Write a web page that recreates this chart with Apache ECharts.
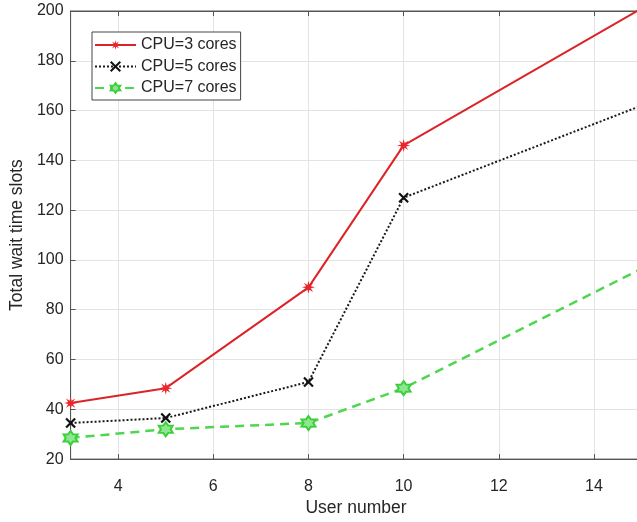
<!DOCTYPE html>
<html>
<head>
<meta charset="utf-8">
<script src="https://cdn.jsdelivr.net/npm/echarts@6/dist/echarts.min.js"></script>
<style>
html,body{margin:0;padding:0;width:637px;height:522px;overflow:hidden;background:#fff;}
#c{width:642px;height:522px;}
</style>
</head>
<body>
<div id="c"></div>
<script>
const userNumbers = [3, 5, 8, 10, 15];
const cpu3 = [42.5, 48.5, 89, 146, 201];
const cpu5 = [34.5, 36.5, 51, 125, 162];
const cpu7 = [28.5, 32, 34.5, 48.5, 96.5];
const seriesNames = ['CPU=3 cores', 'CPU=5 cores', 'CPU=7 cores'];
const xTicks = [4, 6, 8, 10, 12, 14];
const xTitle = 'User number';
const yTitle = 'Total wait time slots';

function starShape(n, R, r) {
  let p = '';
  for (let i = 0; i < n * 2; i++) {
    const a = Math.PI * i / n - Math.PI / 2;
    const rad = i % 2 === 0 ? R : r;
    p += (i === 0 ? 'M' : 'L') + (rad * Math.cos(a)).toFixed(2) + ',' + (rad * Math.sin(a)).toFixed(2);
  }
  return 'path://' + p + 'Z';
}
const starPath = starShape(8, 10, 4);
const hexPath = starShape(6, 10, 6);
const crossPath = 'path://M0,0L10,10M10,0L0,10';
const lastX = userNumbers[userNumbers.length - 1];
// the point at the right edge falls just outside the cropped picture: no marker drawn there
const toData = (ys) => userNumbers.map((x, i) => x === lastX ? {value: [x, ys[i]], symbol: 'none'} : [x, ys[i]]);

const font = 'Liberation Sans, Arial, sans-serif';
const axisColor = '#555';
const textColor = '#262626';

const chart = echarts.init(document.getElementById('c'));
chart.setOption({
  animation: false,
  grid: {left: 67.5, top: 11, right: 0.5, bottom: 61, show: true, borderColor: axisColor, borderWidth: 1},
  legend: {
    orient: 'vertical', left: 92, top: 32,
    backgroundColor: '#fff', borderColor: '#444', borderWidth: 1,
    padding: [4, 4, 3, 2], itemGap: 3.5, itemWidth: 41, itemHeight: 12,
    textStyle: {fontFamily: font, fontSize: 16, color: textColor, lineHeight: 18},
    data: seriesNames
  },
  xAxis: [{
    type: 'value', min: 3, max: 15,
    name: xTitle, nameLocation: 'middle', nameGap: 39,
    nameTextStyle: {fontFamily: font, fontSize: 17.5, color: textColor},
    axisLine: {show: true, lineStyle: {color: axisColor, width: 1}},
    axisTick: {show: true, inside: true, length: 5, customValues: xTicks, lineStyle: {color: axisColor}},
    axisLabel: {customValues: xTicks, fontFamily: font, fontSize: 16, color: textColor, margin: 19},
    splitLine: {show: true, lineStyle: {color: '#e3e3e3', width: 1}}
  }, {
    type: 'value', min: 3, max: 15, position: 'top',
    axisLine: {show: true, lineStyle: {color: axisColor, width: 1}},
    axisTick: {show: true, inside: true, length: 5, customValues: xTicks, lineStyle: {color: axisColor}},
    axisLabel: {show: false},
    splitLine: {show: false}
  }],
  yAxis: [{
    type: 'value', min: 20, max: 200, interval: 20,
    name: yTitle, nameLocation: 'middle', nameGap: 40,
    nameTextStyle: {fontFamily: font, fontSize: 17.5, color: textColor},
    axisLine: {show: true, lineStyle: {color: axisColor, width: 1}},
    axisTick: {show: true, inside: true, length: 5, lineStyle: {color: axisColor}},
    axisLabel: {fontFamily: font, fontSize: 16, color: textColor, margin: 7},
    splitLine: {show: true, lineStyle: {color: '#e3e3e3', width: 1}}
  }],
  series: [
    {
      name: seriesNames[0], type: 'line',
      data: toData(cpu3),
      symbol: starPath, symbolSize: 13, showAllSymbol: true,
      lineStyle: {color: '#dc2428', width: 2},
      itemStyle: {color: '#e8262c'},
      z: 4
    },
    {
      name: seriesNames[1], type: 'line',
      data: toData(cpu5),
      symbol: crossPath, symbolSize: 9, showAllSymbol: true,
      lineStyle: {color: '#1a1a1a', width: 2, type: [2, 2]},
      itemStyle: {color: 'none', borderColor: '#111', borderWidth: 2.2},
      z: 3
    },
    {
      name: seriesNames[2], type: 'line',
      data: toData(cpu7),
      symbol: hexPath, symbolSize: 14, showAllSymbol: true,
      lineStyle: {color: '#4fd64f', width: 2.5, type: [9, 6]},
      itemStyle: {color: '#8ee68e', borderColor: '#3ccf3c', borderWidth: 2},
      z: 2
    }
  ]
});
</script>
</body>
</html>
